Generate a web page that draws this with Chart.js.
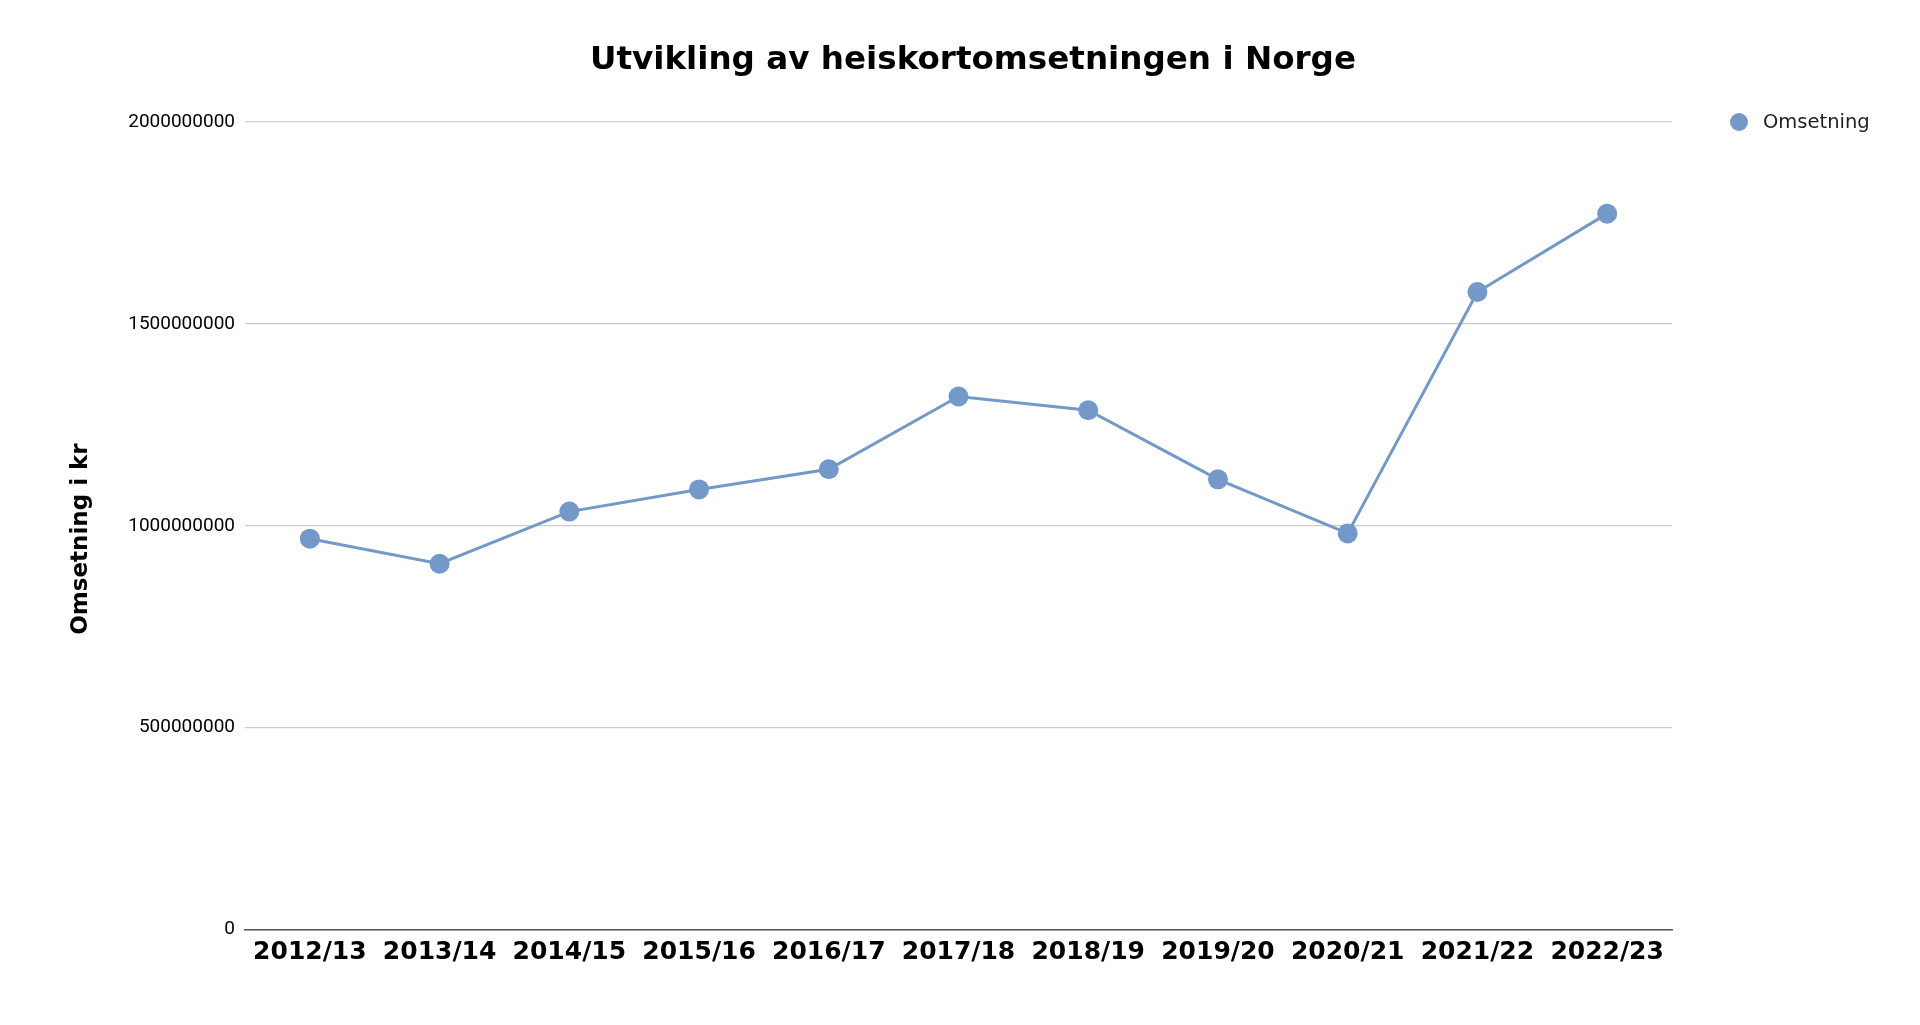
<!DOCTYPE html>
<html>
<head>
<meta charset="utf-8">
<title>Heiskortomsetning</title>
<script src="https://cdn.jsdelivr.net/npm/chart.js@4"></script>
<style>
    html, body { margin: 0; padding: 0; background: #fff; }
    #wrap { width: 1920px; height: 1025px; }
</style>
</head>
<body>
<div id="wrap"><canvas id="chart"></canvas></div>
<script>
// Sesonger og omsetning (kr), lest av figuren
const seasons = ["2012/13", "2013/14", "2014/15", "2015/16", "2016/17", "2017/18",
    "2018/19", "2019/20", "2020/21", "2021/22", "2022/23"];
const turnover = [968000000, 906000000, 1035000000, 1090000000, 1140000000, 1320000000,
    1286000000, 1115000000, 981000000, 1579000000, 1773000000];
const yTicks = [0, 500000000, 1000000000, 1500000000, 2000000000];

const seriesName = "Omsetning";
const chartTitle = "Utvikling av heiskortomsetningen i Norge";
const yTitle = "Omsetning i kr";
const blue = "#7399c8";

// tittel over hele lerretet, y-tittel og legende oppe til høyre
const titleAndLegend = {
    id: 'titleAndLegend',
    afterDraw(chart) {
        const c = chart.ctx;
        const area = chart.chartArea;
        const ds = chart.data.datasets[0];
        c.save();
        c.fillStyle = '#000';
        c.font = 'bold 32.6px "DejaVu Sans"';
        c.textAlign = 'center';
        c.textBaseline = 'middle';
        c.fillText(chartTitle, 973, 61);

        // y-aksetittel, litt under midten av plottet som i originalen
        c.save();
        c.translate(81, 539);
        c.rotate(-Math.PI / 2);
        c.font = 'bold 23px "DejaVu Sans"';
        c.fillText(yTitle, 0, 0);
        c.restore();

        const x = area.right + 67;
        const y = area.top;
        c.fillStyle = ds.backgroundColor;
        c.beginPath();
        c.arc(x, y, 9, 0, Math.PI * 2);
        c.fill();
        c.fillStyle = '#222';
        c.font = '19.5px "DejaVu Sans"';
        c.textAlign = 'left';
        c.fillText(ds.label, x + 24, y + 1);
        c.restore();
    }
};

new Chart(document.getElementById('chart'), {
    type: 'line',
    data: {
        labels: seasons,
        datasets: [{
            label: seriesName,
            data: turnover,
            borderColor: blue,
            backgroundColor: blue,
            borderWidth: 3,
            pointRadius: 10,
            pointHoverRadius: 10,
            pointBorderWidth: 0,
            tension: 0
        }]
    },
    options: {
        responsive: true,
        maintainAspectRatio: false,
        animation: false,
        layout: { padding: { left: 0, right: 248, top: 122, bottom: 49.5 } },
        plugins: {
            legend: { display: false },
            tooltip: { enabled: false },
            title: { display: false }
        },
        scales: {
            x: {
                offset: true,
                grid: { display: false, drawTicks: false },
                border: { display: true, color: '#555', width: 1.5 },
                ticks: {
                    color: '#000',
                    padding: 8,
                    maxRotation: 0,
                    font: { family: '"DejaVu Sans"', size: 25, weight: 'bold' }
                }
            },
            y: {
                min: 0,
                max: 2000000000,
                afterBuildTicks(scale) {
                    scale.ticks = yTicks.map(v => ({ value: v }));
                },
                afterFit(scale) {
                    scale.width = 245;
                },
                grid: { color: '#cccccc', lineWidth: 1.2, drawTicks: false },
                border: { display: false },
                ticks: {
                    color: '#000',
                    padding: 10,
                    font: { family: 'Roboto', size: 19 },
                    callback: (v) => String(v)
                },
                title: { display: false }
            }
        }
    },
    plugins: [titleAndLegend]
});
</script>
</body>
</html>
